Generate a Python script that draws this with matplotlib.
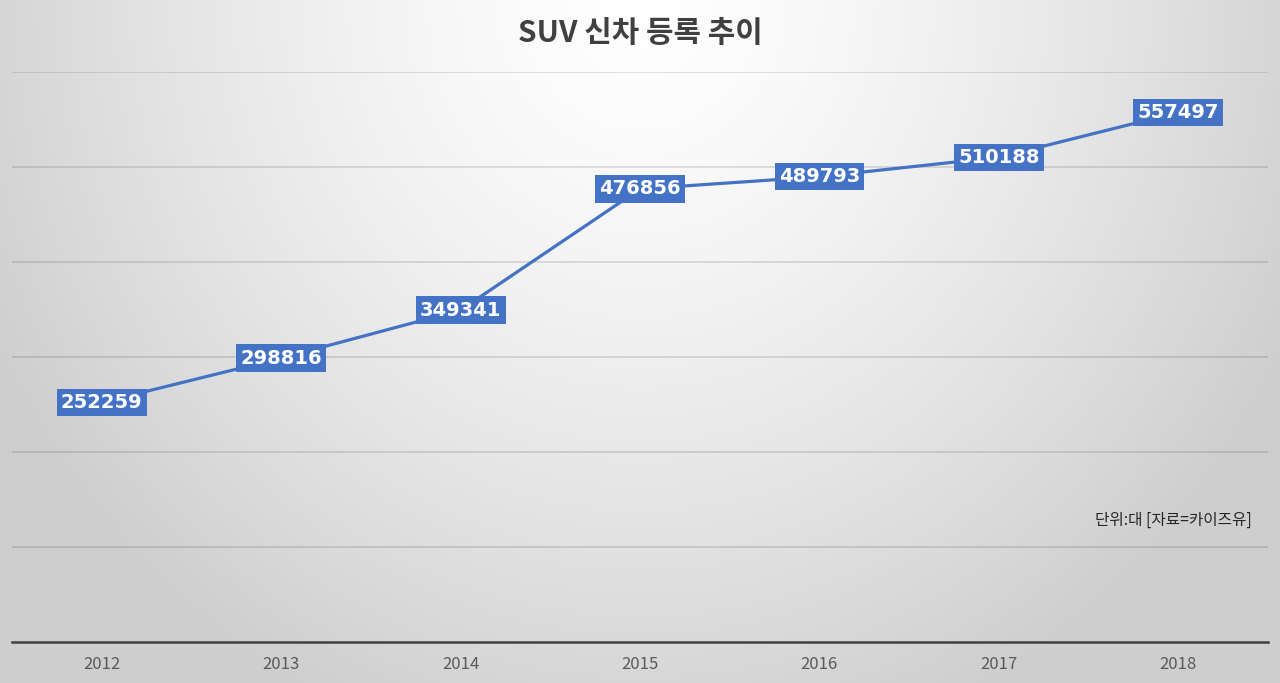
import numpy as np
import matplotlib
matplotlib.use("Agg")
import matplotlib.pyplot as plt

years = ["2012", "2013", "2014", "2015", "2016", "2017", "2018"]
registrations = [252259, 298816, 349341, 476856, 489793, 510188, 557497]
title = "SUV 신차 등록 추이"
note = "단위:대 [자료=카이즈유]"

plt.rcParams['font.family'] = ['Noto Sans CJK KR', 'DejaVu Sans']

W, H = 1280, 683
fig = plt.figure(figsize=(W / 100, H / 100), dpi=100)

# radial gradient background
bg = fig.add_axes([0, 0, 1, 1], zorder=-10)
yy, xx = np.mgrid[0:H, 0:W]
r = np.sqrt(((xx - 640) / 720.0) ** 2 + (yy / 780.0) ** 2)
r = np.clip(r, 0, 1)
val = 1.0 - 0.19 * r ** 1.4
img = np.dstack([val, val, val])
bg.imshow(img, aspect='auto', extent=[0, 1, 0, 1], origin='upper')
bg.axis('off')

ax = fig.add_axes([12 / W, 1 - 642 / H, (1268 - 12) / W, (642 - 72) / H])
ax.set_facecolor('none')
x = np.arange(len(years))
ax.set_xlim(-0.5, len(years) - 0.5)
ax.set_ylim(0, 600000)
ax.set_yticks(np.arange(100000, 600001, 100000))
ax.yaxis.grid(True, color='black', alpha=0.13, linewidth=1.2)
ax.set_axisbelow(True)
ax.tick_params(axis='y', left=False, labelleft=False)
ax.set_xticks(x)
ax.set_xticklabels(years, fontsize=12, color='#595959')
ax.tick_params(axis='x', length=0, pad=10)
for s in ['top', 'right', 'left']:
    ax.spines[s].set_visible(False)
ax.spines['bottom'].set_color('#404040')
ax.spines['bottom'].set_linewidth(1.8)

ax.plot(x, registrations, color='#4472C4', linewidth=2.3, zorder=3)
for xi, v in zip(x, registrations):
    ax.text(xi, v, f"{v}", ha='center', va='center', fontsize=14,
            fontweight='bold', color='white', family='DejaVu Sans',
            bbox=dict(boxstyle='square,pad=0.22', facecolor='#4472C4',
                      edgecolor='none'), zorder=4)

fig.text(0.5, 1 - 33 / H, title, ha='center', va='center', fontsize=21.5,
         fontweight='bold', color='#404040')
fig.text(1252 / W, 1 - 520 / H, note, ha='right', va='center', fontsize=11.3,
         color='#262626')

fig.savefig('out.png', dpi=100)
